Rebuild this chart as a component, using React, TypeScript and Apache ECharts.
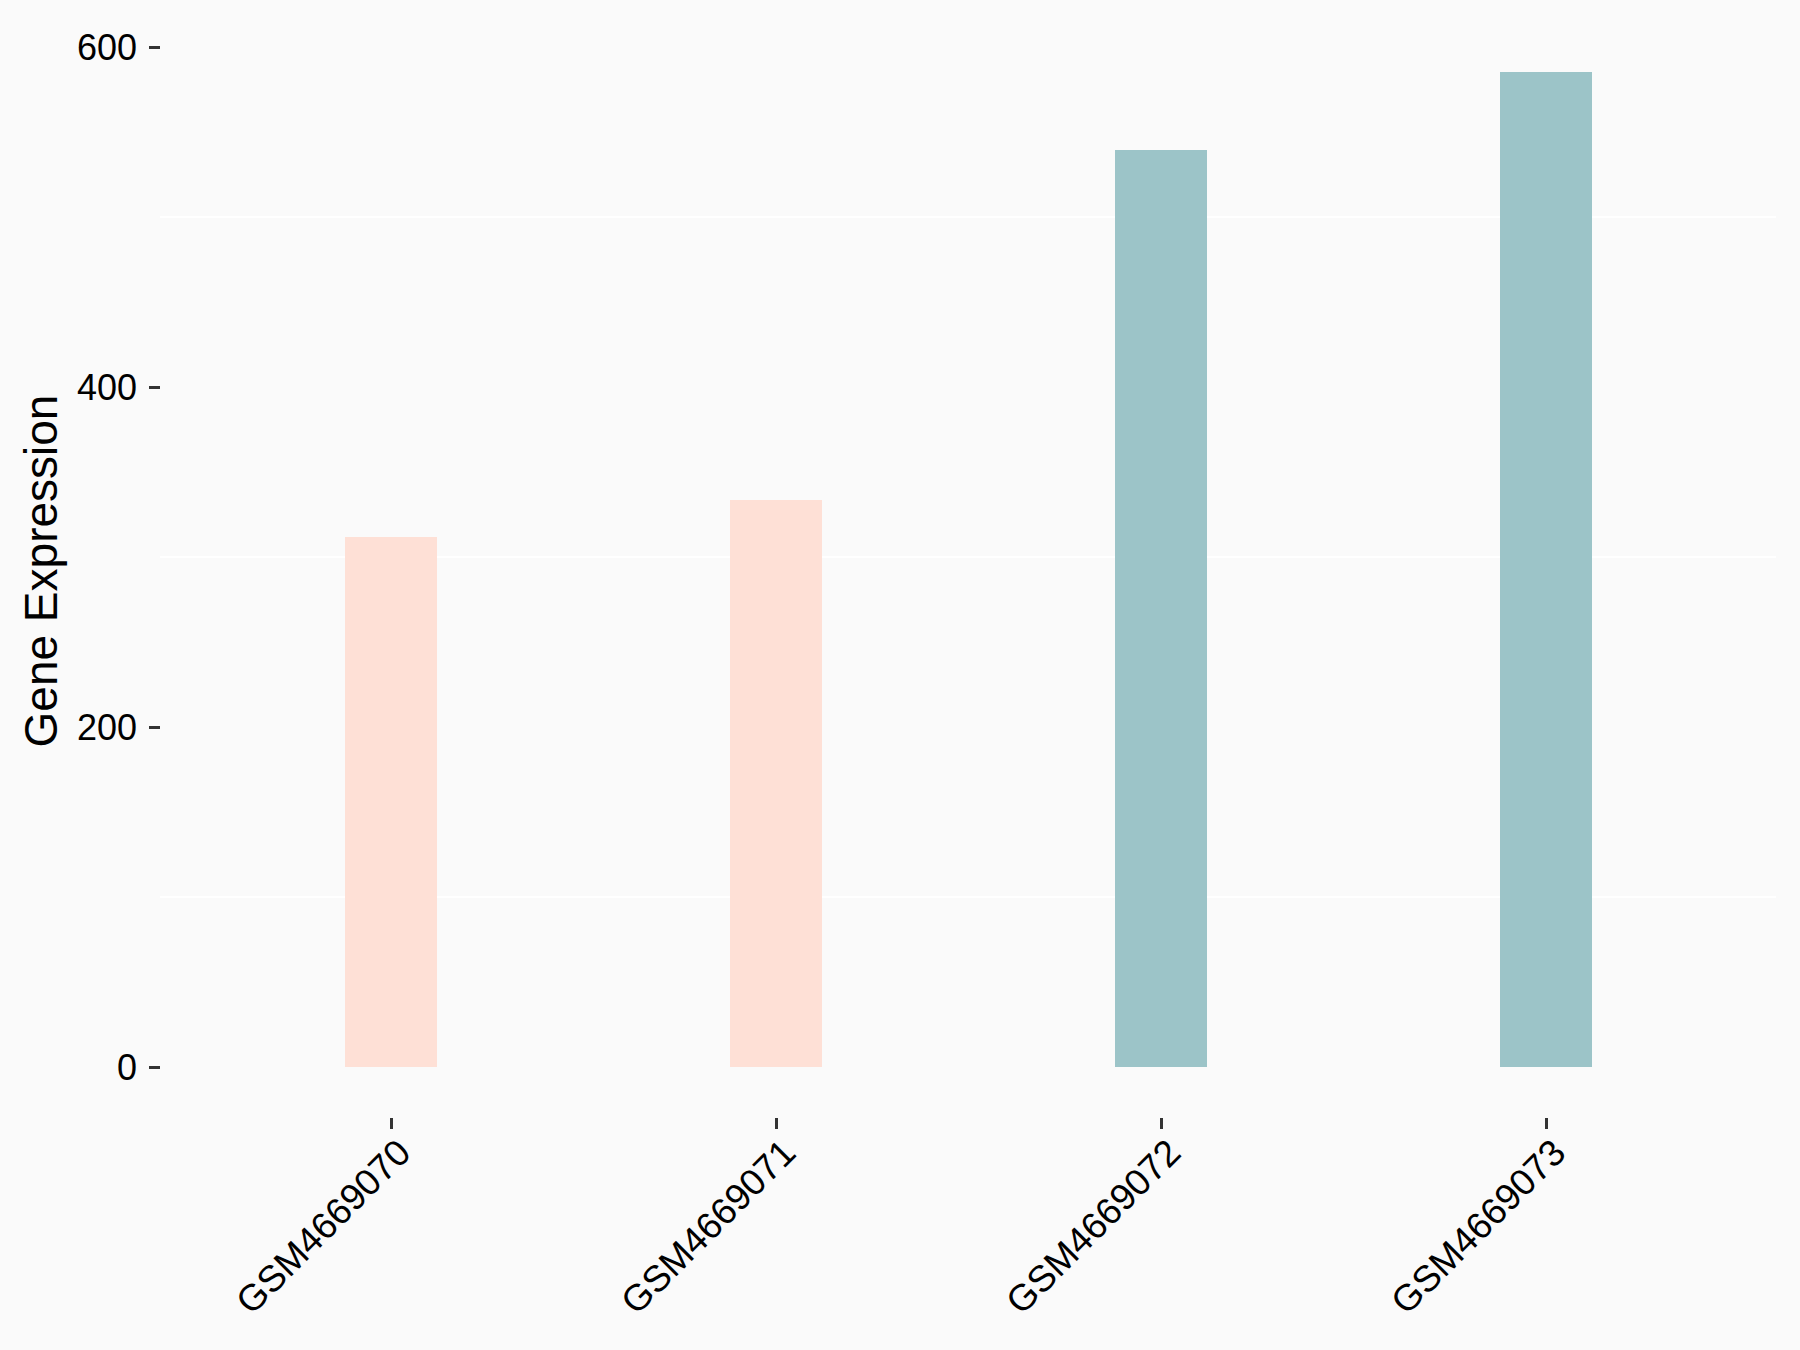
import React, { useEffect, useRef } from "react";
import * as echarts from "echarts";

const categories = ["GSM4669070", "GSM4669071", "GSM4669072", "GSM4669073"];
const expression = [311.8, 333.5, 539.4, 585.3];
const groupColors = ["#FEE0D6", "#FEE0D6", "#9CC4C8", "#9CC4C8"];
const yTicks = { min: 0, max: 600, interval: 200 };
const panelMin = -30;
const yTitle = "Gene Expression";

const FONT = "Liberation Sans, Arial, Helvetica, sans-serif";

export default function App() {
  const ref = useRef<HTMLDivElement>(null);
  useEffect(() => {
    document.body.style.margin = "0";
    const chart = echarts.init(ref.current!, null, { renderer: "svg" });
    chart.setOption({
      animation: false,
      backgroundColor: "#FAFAFA",
      textStyle: { fontFamily: FONT },
      grid: [
        { left: 198.5, right: 61.5, top: 47, bottom: 232, containLabel: false },
        { left: 160, right: 24, top: 47, bottom: 283, containLabel: false },
      ],
      xAxis: [
        {
          type: "category",
          gridIndex: 0,
          data: categories,
          boundaryGap: true,
          axisLine: { show: false, onZero: false },
          axisTick: { show: true, alignWithLabel: true, length: 11, lineStyle: { color: "#333333", width: 3 } },
          axisLabel: {
            rotate: 45,
            fontSize: 37,
            color: "#000000",
            fontFamily: FONT,
            margin: 15,
            interval: 0,
            verticalAlign: "top",
          },
          splitLine: { show: false },
        },
        { type: "value", gridIndex: 1, show: false },
      ],
      yAxis: [
        { type: "value", gridIndex: 0, min: panelMin, max: yTicks.max, show: false },
        {
          type: "value",
          gridIndex: 1,
          min: yTicks.min,
          max: yTicks.max,
          interval: yTicks.interval,
          axisLine: { show: false },
          axisTick: { show: true, length: 11, lineStyle: { color: "#333333", width: 3 } },
          axisLabel: { fontSize: 36, color: "#000000", margin: 23, fontFamily: FONT },
          splitLine: { show: false },
          minorTick: { show: false, splitNumber: 2 },
          minorSplitLine: { show: true, lineStyle: { color: "#FFFFFF", width: 2 } },
        },
      ],
      graphic: [
        {
          type: "text",
          x: 41,
          y: 571,
          rotation: Math.PI / 2,
          style: {
            text: yTitle,
            fontSize: 46,
            fontFamily: FONT,
            fill: "#000000",
            align: "center",
            verticalAlign: "middle",
          },
        },
      ],
      series: [
        {
          type: "bar",
          xAxisIndex: 0,
          yAxisIndex: 0,
          barWidth: 92,
          data: expression.map((v, i) => ({ value: v, itemStyle: { color: groupColors[i] } })),
        },
      ],
    });
    return () => chart.dispose();
  }, []);
  return <div ref={ref} style={{ width: 1800, height: 1350 }} />;
}
